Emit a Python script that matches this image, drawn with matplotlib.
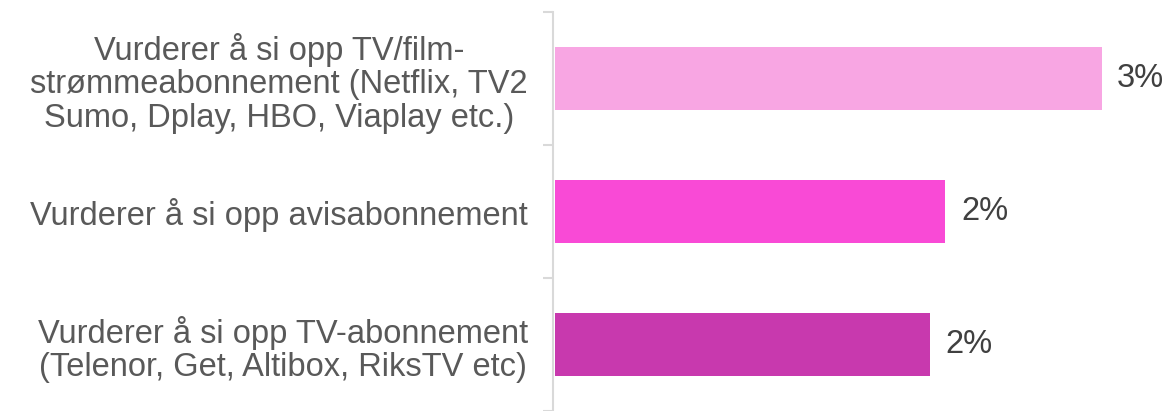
import matplotlib
matplotlib.use("Agg")
import matplotlib.pyplot as plt

# data (top to bottom as shown)
categories = [
    "Vurderer å si opp TV/film-\nstrømmeabonnement (Netflix, TV2\nSumo, Dplay, HBO, Viaplay etc.)",
    "Vurderer å si opp avisabonnement",
    "Vurderer å si opp TV-abonnement\n(Telenor, Get, Altibox, RiksTV etc)",
]
values = [2.8, 2.0, 1.92]
labels = ["3%", "2%", "2%"]
colors = ["#F8A6E3", "#F94AD6", "#C839AE"]

plt.rcParams["font.family"] = ["Liberation Sans", "DejaVu Sans"]

fig = plt.figure(figsize=(11.68, 4.11), dpi=100)
ax = fig.add_axes([553 / 1168, 0.0, 1 - 553 / 1168, 1 - 12 / 411])

ypos = [2, 1, 0]
ax.barh(ypos, values, height=0.47, color=colors, left=0.01)

for y, v, lab in zip(ypos, values, labels):
    ax.text(v + 0.09, y, lab, va="center", ha="left", fontsize=23.5, color="#404040")

ax.set_ylim(-0.5, 2.5)
ax.set_xlim(0, 3.15)

ax.set_yticks(ypos)
ax.set_yticklabels(categories, fontsize=23.5, color="#595959",
                   multialignment="center", linespacing=1.12)
ax.tick_params(axis="y", which="major", length=0, pad=18)
ax.set_yticks([-0.5, 0.5, 1.5, 2.5], minor=True)
ax.tick_params(axis="y", which="minor", length=7, width=1.5, color="#D9D9D9")
ax.set_xticks([])

for s in ["top", "right", "bottom"]:
    ax.spines[s].set_visible(False)
ax.spines["left"].set_color("#D9D9D9")
ax.spines["left"].set_linewidth(1.5)

fig.savefig("out.png", dpi=100)
